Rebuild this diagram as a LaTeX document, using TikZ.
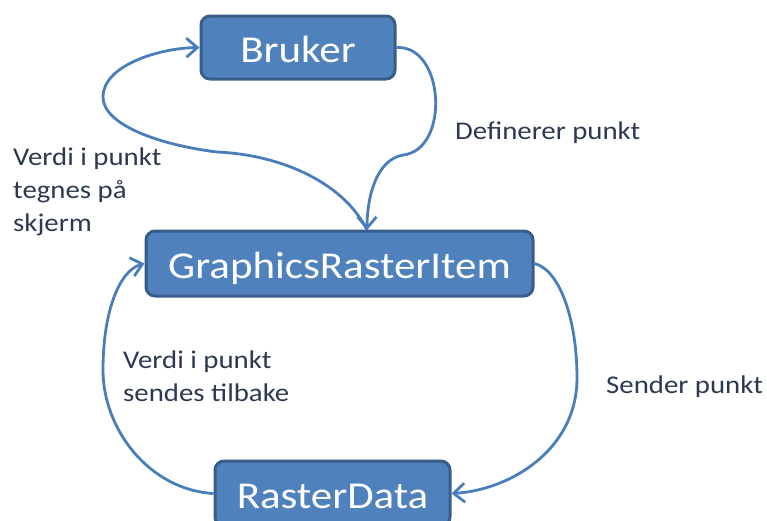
\documentclass[tikz,border=0pt]{standalone}
\usepackage{fontspec}
\setmainfont{Carlito}[FakeStretch=1.13]
\usetikzlibrary{arrows.meta}
\definecolor{boxfill}{RGB}{79,129,189}
\definecolor{boxline}{RGB}{56,93,138}
\definecolor{flow}{RGB}{74,126,187}
\definecolor{labeltext}{RGB}{45,56,82}

\begin{document}
\begin{tikzpicture}[x=1pt,y=-1pt,
  stepbox/.style={draw=boxline, line width=3pt, fill=boxfill, rounded corners=9pt,
    text=white, font=\fontsize{38}{40}\selectfont, inner sep=0pt,
    text height=33pt, text depth=4pt},
  flowline/.style={draw=flow, line width=2.8pt,
    -{Straight Barb[length=11pt,width=19pt]}},
  note/.style={text=labeltext, font=\fontsize{25.5}{33}\selectfont,
    align=left, inner sep=0pt, anchor=base west}]
\useasboundingbox (0,0) rectangle (767,520);

% the three components
\node[stepbox, minimum width=194pt, minimum height=63pt] (bruker) at (298,47.5) {Bruker};
\node[stepbox, minimum width=387pt, minimum height=65pt] (item) at (339.5,263.5) {GraphicsRasterItem};
\node[stepbox, minimum width=235pt, minimum height=65pt] (data) at (332.5,493.5) {RasterData};

% anchor points on the middle box
\coordinate (itemtop) at (367,230);

% Bruker -> GraphicsRasterItem
\draw[flowline] (bruker.east) .. controls (445,45) and (450,150) .. (403,155)
  .. controls (375,160) and (367,200) .. (itemtop);
% GraphicsRasterItem -> Bruker
\draw[flowline] (itemtop) .. controls (345,185) and (285,155) .. (217,152)
  .. controls (160,145) and (103,125) .. (103,97)
  .. controls (103,65) and (160,48) .. (bruker.west);
% GraphicsRasterItem -> RasterData
\draw[flowline] (item.east) .. controls (560,270) and (577,320) .. (577,378)
  .. controls (577,450) and (510,490) .. (data.east);
% RasterData -> GraphicsRasterItem
\draw[flowline] (data.west) .. controls (150,490) and (103,430) .. (103,370)
  .. controls (103,310) and (120,270) .. (item.west);

% labels (multi-line nodes are placed by the baseline of their last line)
\node[note] (lbl1) at (455,139) {Definerer punkt};
\node[note] (lbl2) at (13,231) {Verdi i punkt\\tegnes på\\skjerm};
\node[note] (lbl3) at (123,401) {Verdi i punkt\\sendes tilbake};
\node[note] (lbl4) at (606,393) {Sender punkt};
\end{tikzpicture}
\end{document}
